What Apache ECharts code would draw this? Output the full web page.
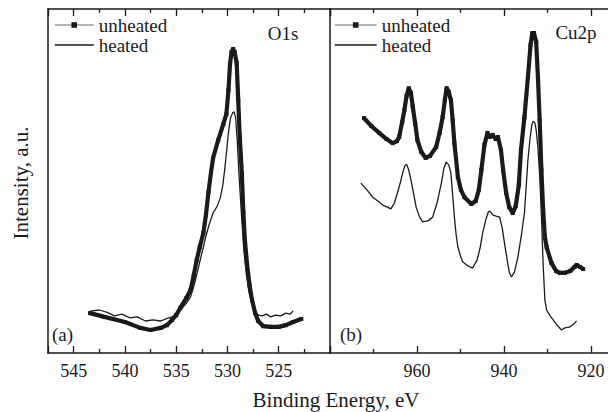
<!DOCTYPE html>
<html>
<head>
<meta charset="utf-8">
<script src="https://cdn.jsdelivr.net/npm/echarts@6/dist/echarts.min.js"></script>
<style>
html,body{margin:0;padding:0;background:#fff;}
#chart{width:608px;height:412px;}
</style>
</head>
<body>
<div id="chart"></div>
<script>
// ---- Data (binding energy eV, intensity a.u.) ----
const o1sUnheated = [
  [543.4,11.6],[542,10.5],[540,9.0],[538.5,7.3],[537.5,6.7],[536.5,7.3],[535.9,8.1],[535.4,9.6],
  [535,11.0],[534.6,13.1],[534,16.0],[533.6,18.3],[533.3,22.4],[533,27.0],[532.7,30.8],[532.35,34.9],
  [532.1,40.1],[531.85,46.8],[531.6,52.6],[531.4,56.7],[530.9,61.9],[530.4,66.6],[530.1,69.5],
  [529.9,76.5],[529.75,84.0],[529.6,87.5],[529.45,88.4],[529.3,87.5],[529.1,84.3],[528.95,73.5],
  [528.8,62.8],[528.6,52.3],[528.45,41.0],[528.3,32.8],[528.1,26.2],[527.85,19.8],[527.6,15.4],
  [527.3,11.6],[527,9.3],[526.5,7.8],[525.8,7.6],[525,7.6],[524.3,8.1],[523.6,9.0],[522.8,9.9]
];
const o1sHeated = [
  [543.4,12.2],[542.5,12.5],[541.8,11.9],[541,10.8],[540.3,11.3],[539.5,10.2],[538.8,10.5],[538,9.3],
  [537.3,9.6],[536.5,9.3],[536,9.9],[535.4,10.5],[535,11.3],[534.4,13.1],[534,14.5],[533.6,16.3],
  [533.3,19.2],[533,22.7],[532.7,26.5],[532.35,30.8],[532.1,34.0],[531.8,37.2],[531.4,40.7],
  [531.0,42.7],[530.7,45.1],[530.45,48.8],[530.25,53.8],[530.05,59.6],[529.9,64.2],[529.7,68.3],
  [529.5,69.8],[529.35,70.1],[529.2,68.3],[529.05,61.9],[528.9,53.2],[528.75,45.9],[528.6,38.7],
  [528.4,29.9],[528.15,22.7],[527.9,17.7],[527.6,14.0],[527.3,12.2],[527,11.0],[526.6,10.8],
  [526.2,11.3],[525.8,10.5],[525.3,11.0],[524.8,10.8],[524.3,11.6],[523.9,11.3],[523.6,12.2]
];
const cu2pUnheated = [
  [972.2,68.3],[970.5,66.0],[968.7,64.0],[967,62.2],[965.6,61.0],[964.6,61.6],[964.1,62.8],[963.4,67.2],
  [962.9,70.6],[962.4,74.7],[961.9,77.0],[961.4,75.6],[961.0,71.8],[960.4,66.6],[959.9,61.9],[959,58.4],
  [958,56.7],[957,57.3],[955.6,59.9],[954.8,64.0],[954.1,68.6],[953.6,73.5],[953.2,77.0],[952.7,75.9],
  [952.2,73.5],[951.8,67.7],[951.4,61.0],[950.6,51.2],[949.9,47.4],[949.1,45.3],[947.5,43.3],[946.5,44.2],
  [945.8,47.4],[945.2,53.2],[944.5,60.5],[943.8,64.0],[943.2,62.8],[942.6,63.4],[941.9,62.2],[941.4,62.8],
  [940.7,59.0],[940.2,53.2],[939.5,46.5],[938.8,42.4],[938,40.7],[937.3,42.7],[936.6,48.8],[936.1,59.0],
  [935.3,68.6],[934.5,80.2],[933.9,89.5],[933.5,93.0],[933.1,93.0],[932.6,90.4],[932.2,80.2],[931.8,67.7],
  [931.4,53.2],[931.0,41.6],[930.6,33.7],[930.2,30.8],[929.1,26.2],[928,23.8],[927.2,23.3],[926,23.3],
  [924.8,23.8],[923.8,25.0],[923.3,25.6],[922.5,25.0],[921.8,24.4]
];
const cu2pHeated = [
  [972.9,49.4],[971.5,47.4],[970.2,45.3],[969,44.2],[967.9,43.0],[966.8,42.4],[966.0,41.9],[965.2,43.6],
  [964.5,46.5],[963.8,49.7],[963.3,52.3],[962.8,54.4],[962.4,54.9],[961.9,53.2],[961.4,50.3],[960.8,46.5],
  [960.2,42.4],[959.4,39.5],[958.7,38.1],[957.5,38.4],[956.4,39.5],[955.4,43.6],[954.4,49.4],[953.8,53.8],
  [953.3,55.5],[952.7,54.7],[952.2,52.3],[951.8,45.9],[951.4,39.5],[951.0,34.3],[950.6,30.8],[950,28.2],
  [949.5,26.5],[948.3,25.3],[947.2,24.7],[946.2,27.0],[945.5,30.5],[944.9,34.9],[944.2,38.7],[943.6,41.0],
  [943.3,41.3],[942.5,40.1],[941.8,39.8],[941.0,39.5],[940.4,36.3],[939.9,32.0],[939.2,26.5],[938.8,23.5],
  [938.3,22.1],[937.6,23.5],[936.8,27.9],[936,34.3],[935.3,40.7],[934.5,56.1],[934,62.5],[933.6,66.3],
  [933.3,67.4],[932.9,66.9],[932.6,64.8],[932.2,59.6],[931.8,51.7],[931.4,40.1],[931.0,25.6],[930.6,15.4],
  [930.2,12.5],[929.4,10.8],[928.7,9.6],[927.8,8.1],[926.8,6.7],[926,7.3],[924.8,7.6],[924,8.4],[923.3,9.3]
];
const o1sTickLabels = [545, 540, 535, 530, 525];
const cu2pTickLabels = [960, 940, 920];
const seriesNames = ['unheated', 'heated'];

// ---- Chart ----
const FONT = 'Liberation Serif';
const INK = '#1a1a1a';
const chart = echarts.init(document.getElementById('chart'), null, {renderer: 'svg'});

function xAxisPair(gridIndex, min, max, interval, labels) {
  const common = {
    type: 'value', gridIndex, min, max, interval, inverse: true,
    axisLine: {show: true, onZero: false, lineStyle: {color: INK, width: 1.5}},
    axisTick: {show: true, inside: true, length: 7, lineStyle: {color: INK, width: 1.3}},
    minorTick: {show: true, splitNumber: 2, length: 4, lineStyle: {color: INK, width: 1.3}},
    splitLine: {show: false}, minorSplitLine: {show: false}
  };
  return [
    Object.assign({}, common, {
      position: 'bottom',
      axisLabel: {
        show: true, margin: 9, fontSize: 18, fontFamily: FONT, color: INK,
        showMinLabel: true, showMaxLabel: true, hideOverlap: false,
        formatter: v => labels.indexOf(Math.round(v * 100) / 100) >= 0 ? String(v) : ''
      }
    }),
    Object.assign({}, common, {position: 'top', axisLabel: {show: false}})
  ];
}
function yAxis(gridIndex) {
  return {
    type: 'value', gridIndex, min: 0, max: 100,
    axisLine: {show: true, lineStyle: {color: INK, width: 1.5}},
    axisTick: {show: false}, axisLabel: {show: false}, splitLine: {show: false}
  };
}
function legend(left, width) {
  return {
    left, top: 15, orient: 'vertical', padding: 0, itemGap: 0,
    itemWidth: width, itemHeight: 7, selectedMode: false,
    textStyle: {fontSize: 19, fontFamily: FONT, color: INK, lineHeight: 20},
    data: [
      {name: 'unheated', lineStyle: {width: 1, color: '#666'}, itemStyle: {color: INK}},
      {name: 'heated', lineStyle: {width: 1.4, color: INK}, itemStyle: {opacity: 0}}
    ]
  };
}
const unheatedStyle = {
  type: 'line', symbol: 'rect', symbolSize: 4, showSymbol: true,
  lineStyle: {width: 4.2, color: INK}, itemStyle: {color: INK}, smooth: false, z: 3
};
const heatedStyle = {
  type: 'line', symbol: 'none', lineStyle: {width: 1.3, color: INK}, itemStyle: {color: INK}, z: 4
};
function label(text, x, y, size, align, rotation) {
  return {
    type: 'text', x, y, rotation: rotation || 0,
    style: {text, fontSize: size, fontFamily: FONT, fill: INK, align, verticalAlign: 'middle'}
  };
}

const option = {
  animation: false,
  backgroundColor: '#fff',
  textStyle: {fontFamily: FONT},
  grid: [
    {left: 48, top: 9, width: 282, height: 344, outerBoundsMode: 'none', containLabel: false},
    {left: 330, top: 9, width: 348, height: 344, outerBoundsMode: 'none', containLabel: false}
  ],
  xAxis: [].concat(
    xAxisPair(0, 520, 547.5, 5, o1sTickLabels),
    xAxisPair(1, 900, 980, 20, cu2pTickLabels)
  ),
  yAxis: [yAxis(0), yAxis(1)],
  legend: [legend(54, 39), legend(334, 42)],
  series: [
    Object.assign({}, unheatedStyle, {name: seriesNames[0], xAxisIndex: 0, yAxisIndex: 0, data: o1sUnheated}),
    Object.assign({}, heatedStyle, {name: seriesNames[1], xAxisIndex: 0, yAxisIndex: 0, data: o1sHeated}),
    Object.assign({}, unheatedStyle, {name: seriesNames[0], xAxisIndex: 2, yAxisIndex: 1, data: cu2pUnheated}),
    Object.assign({}, heatedStyle, {name: seriesNames[1], xAxisIndex: 2, yAxisIndex: 1, data: cu2pHeated})
  ],
  graphic: [
    label('O1s', 283, 33, 19, 'center'),
    label('Cu2p', 576, 32, 19, 'center'),
    label('(a)', 52, 334, 19, 'left'),
    label('(b)', 340, 334, 19, 'left'),
    label('Binding Energy, eV', 336, 400, 21, 'center'),
    label('Intensity, a.u.', 21, 183, 21, 'center', Math.PI / 2)
  ]
};
chart.setOption(option);
</script>
</body>
</html>
